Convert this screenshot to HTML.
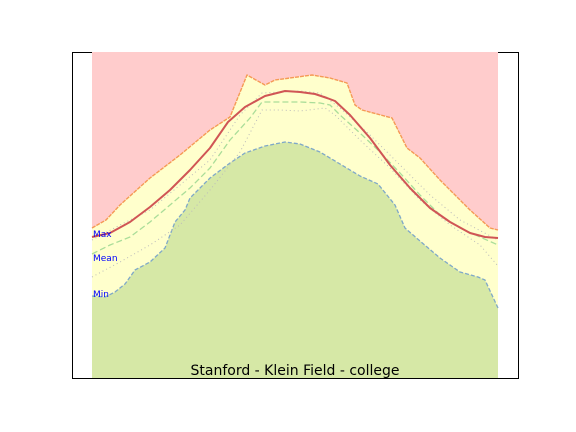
<!DOCTYPE html>
<html><head><meta charset="utf-8"><style>
html,body{margin:0;padding:0;background:#fff}
svg{display:block;font-family:"DejaVu Sans","Liberation Sans",sans-serif}
</style></head><body>
<svg id="chart" width="576" height="432" viewBox="0 0 576 432">
<rect x="72.5" y="52.5" width="446" height="326" fill="#fff" stroke="#000" stroke-width="1"/>
<g id="marks"></g>
<text x="93" y="237" font-size="9" fill="#0000ff">Max</text>
<text x="93" y="261" font-size="9" fill="#0000ff">Mean</text>
<text x="93" y="297" font-size="9" fill="#0000ff">Min</text>
<text x="295" y="375" font-size="14" text-anchor="middle" fill="#000">Stanford - Klein Field - college</text>
</svg>
<script>
// x = position through the year (0..406), y = temperature index (0..326)
const maxDays=[0,14,28,58,88,118,138,155,173,183,198,220,238,255,263,270,300,315,328,348,378,398,406];
const maxVals=[150,158,173,200,223,248,261,303,293,298,300,303,300,295,273,268,260,230,220,198,168,150,148];
const minDays=[0,13,23,33,43,58,73,83,93,98,118,138,153,173,193,208,228,248,268,286,303,313,328,348,368,386,393,406];
const minVals=[82,81,86,94,108,116,130,156,168,180,200,215,225,232,236,234,226,214,202,194,173,150,137,120,106,101,98,70];
const avgMaxDays=[0,18,38,58,78,98,118,136,153,173,193,208,223,235,243,258,278,298,318,338,358,378,393,406];
const avgMaxVals=[141,145,156,171,188,208,230,256,271,282,287,286,284,280,277,263,240,213,190,170,156,145,141,140];
const meanDays=[0,18,38,58,78,98,118,138,158,170,178,208,228,238,248,268,288,308,328,348,368,388,406];
const meanVals=[124,133,141,156,173,190,210,238,260,276,276,276,275,273,263,245,226,205,183,163,150,141,133];
const dotHiDays=[0,28,58,88,118,148,170,208,228,248,278,308,338,368,406];
const dotHiVals=[138,153,168,193,218,263,285,287,285,270,243,213,183,158,138];
const dotLoDays=[0,28,58,88,118,148,170,188,208,233,243,268,298,328,358,388,406];
const dotLoVals=[101,116,133,153,188,226,268,268,267,270,263,238,210,178,153,133,112];

const X0=92,X1=498,Y0=378,Y1=52;
function sx(d){return X0+(X1-X0)*d/406;}
function sy(v){return Y0-(Y0-Y1)*v/326;}
const NS='http://www.w3.org/2000/svg';
const g=document.getElementById('marks');
function pts(days,vals){return days.map((d,i)=>sx(d).toFixed(1)+','+sy(vals[i]).toFixed(1));}
function poly(d,fill,name){const p=document.createElementNS(NS,'path');p.setAttribute('d',d);p.setAttribute('fill',fill);p.setAttribute('stroke','none');


g.appendChild(p);}
function line(days,vals,color,w,dash,name){const p=document.createElementNS(NS,'polyline');p.setAttribute('points',pts(days,vals).join(' '));p.setAttribute('fill','none');p.setAttribute('stroke',color);p.setAttribute('stroke-width',w);p.setAttribute('stroke-linejoin','round');if(dash)p.setAttribute('stroke-dasharray',dash);


g.appendChild(p);}
const maxP=pts(maxDays,maxVals), minP=pts(minDays,minVals);
poly('M'+sx(0)+','+Y1+' L'+maxP.join(' L')+' L'+sx(406)+','+Y1+'Z','#ffcccc','above-max-area');
poly('M'+maxP.join(' L')+' L'+minP.slice().reverse().join(' L')+'Z','#ffffcc','max-min-band');
poly('M'+minP.join(' L')+' L'+sx(406)+','+Y0+' L'+sx(0)+','+Y0+'Z','#d6e8a6','below-min-area');
line(maxDays,maxVals,'#f59a55',1.4,'4,1','max-line');
line(minDays,minVals,'#7fa8c8',1.3,'4,2','min-line');
line(dotHiDays,dotHiVals,'#bbbbbb',1,'1,3','upper-dotted-line');
line(dotLoDays,dotLoVals,'#bbbbbb',1,'1,3','lower-dotted-line');
line(meanDays,meanVals,'#aadd99',1.3,'6,3','mean-line');
line(avgMaxDays,avgMaxVals,'#d05555',2,null,'average-max-line');
</script>
</body></html>
